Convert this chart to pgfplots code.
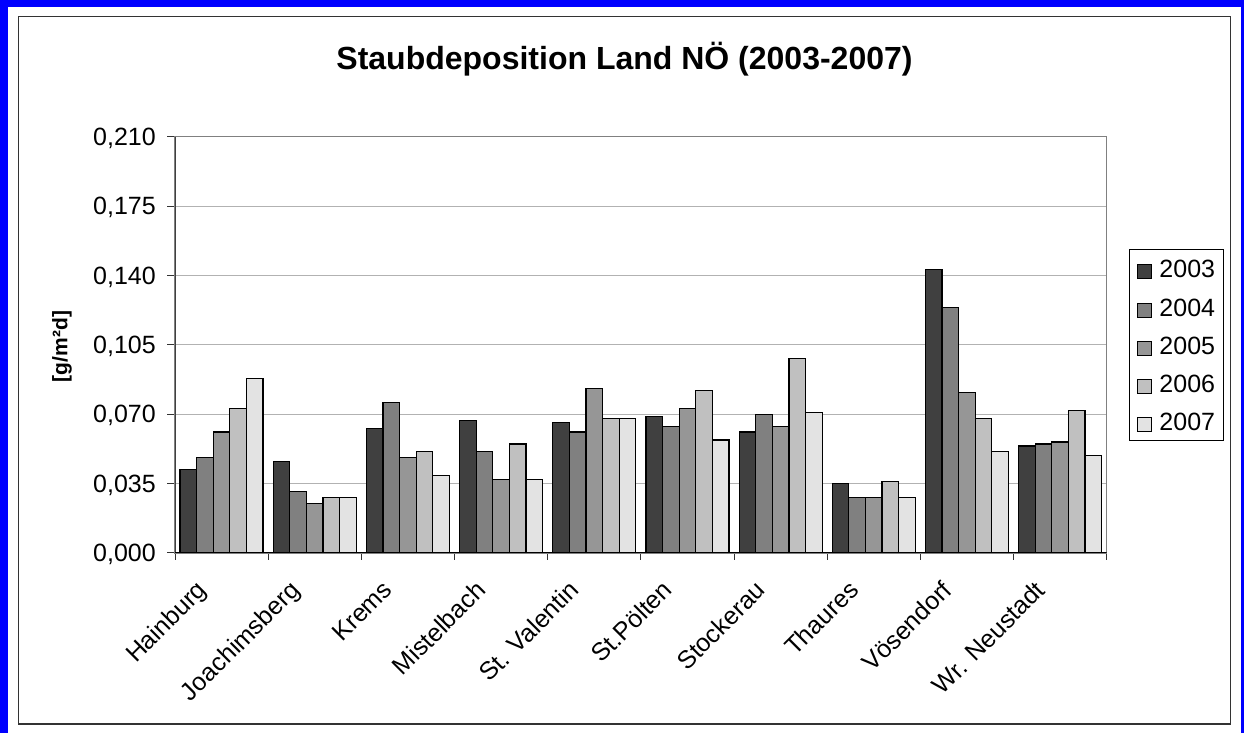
\documentclass[border=0pt]{standalone}
\usepackage{fontspec}
\setmainfont{Liberation Sans}
\usepackage{pgfplots}
\pgfplotsset{compat=1.18}
\usepackage{pgfplotstable}

\definecolor{c2003}{HTML}{404040}
\definecolor{c2004}{HTML}{808080}
\definecolor{c2005}{HTML}{969696}
\definecolor{c2006}{HTML}{C0C0C0}
\definecolor{c2007}{HTML}{E3E3E3}
\definecolor{frameblue}{HTML}{0000FF}

\pgfplotstableread{
idx y2003 y2004 y2005 y2006 y2007
0 0.042 0.048 0.061 0.073 0.088
1 0.046 0.031 0.025 0.028 0.028
2 0.063 0.076 0.048 0.051 0.039
3 0.067 0.051 0.037 0.055 0.037
4 0.066 0.061 0.083 0.068 0.068
5 0.069 0.064 0.073 0.082 0.057
6 0.061 0.070 0.064 0.098 0.071
7 0.035 0.028 0.028 0.036 0.028
8 0.143 0.124 0.081 0.068 0.051
9 0.054 0.055 0.056 0.072 0.049
}\datatable

\begin{document}
\begin{tikzpicture}[x=1pt,y=1pt]
\useasboundingbox (0,0) rectangle (1244,733);
\fill[frameblue] (0,0) rectangle (8,733);
\fill[frameblue] (0,726) rectangle (1244,733);
\fill[frameblue] (1241,0) rectangle (1244,733);
\draw[black!80, line width=1.3pt] (18.5,9) rectangle (1230.7,716.5);
\node[font=\bfseries\fontsize{32}{38}\selectfont, anchor=center] at (624.5,673.5) {Staubdeposition Land NÖ (2003-2007)};
\begin{axis}[
  at={(175pt,180pt)}, anchor=south west,
  width=931.7pt, height=416.3pt, scale only axis,
  ybar=0pt, bar width=16.6pt,
  xmin=-0.5, xmax=9.5, ymin=0, ymax=0.21,
  xtick={0,...,9},
  xticklabels={Hainburg,Joachimsberg,Krems,Mistelbach,St. Valentin,St.Pölten,Stockerau,Thaures,Vösendorf,Wr. Neustadt},
  minor xtick={-0.5,0.5,...,9.5},
  ytick={0,0.035,0.07,0.105,0.14,0.175,0.21},
  scaled y ticks=false,
  tick align=outside, tick pos=left,
  major tick length=8pt, minor tick length=7pt,
  major x tick style={draw=none},
  tick style={black!80, line width=1pt},
  ymajorgrids, grid style={black!30, line width=1pt},
  axis line style={black!50, line width=1.3pt},
  ticklabel style={font=\fontsize{25}{30}\selectfont},
  yticklabel style={/pgf/number format/fixed, /pgf/number format/fixed zerofill,
    /pgf/number format/precision=3, /pgf/number format/use comma,
    /pgf/number format/assume math mode=true,
    anchor=east, inner sep=0pt, xshift=-11pt, text depth=0pt},
  xticklabel style={xshift=-26.6pt, yshift=-18pt, rotate=45, anchor=north east, inner sep=0pt},
  ylabel={[g/m²d]},
  ylabel style={font=\bfseries\fontsize{21}{25}\selectfont, at={(axis description cs:-0.1213,0.496)}, anchor=center},
  legend style={at={(axis description cs:1.0239,0.7295)}, anchor=north west, draw=black, line width=1pt,
    inner xsep=8pt, inner ysep=0pt, font=\fontsize{25}{30}\selectfont,
    nodes={inner ysep=0pt, inner xsep=0pt, text height=28.1pt, text depth=10.1pt}},
  legend cell align=left,
  /tikz/every odd column/.append style={column sep=7pt},
  legend image code/.code={\draw[#1, line width=1pt] (0pt,-10pt) rectangle (14pt,4pt);},
]
\addplot[fill=c2003, draw=black, line width=1.2pt] table[x=idx,y=y2003]{\datatable};
\addplot[fill=c2004, draw=black, line width=1.2pt] table[x=idx,y=y2004]{\datatable};
\addplot[fill=c2005, draw=black, line width=1.2pt] table[x=idx,y=y2005]{\datatable};
\addplot[fill=c2006, draw=black, line width=1.2pt] table[x=idx,y=y2006]{\datatable};
\addplot[fill=c2007, draw=black, line width=1.2pt] table[x=idx,y=y2007]{\datatable};
\legend{2003,2004,2005,2006,2007}
\draw[black!75, line width=1.3pt] (rel axis cs:0,0) -- (rel axis cs:0,1);
\draw[black, line width=1.5pt] (rel axis cs:0,0) -- (rel axis cs:1,0);
\end{axis}
\end{tikzpicture}
\end{document}
